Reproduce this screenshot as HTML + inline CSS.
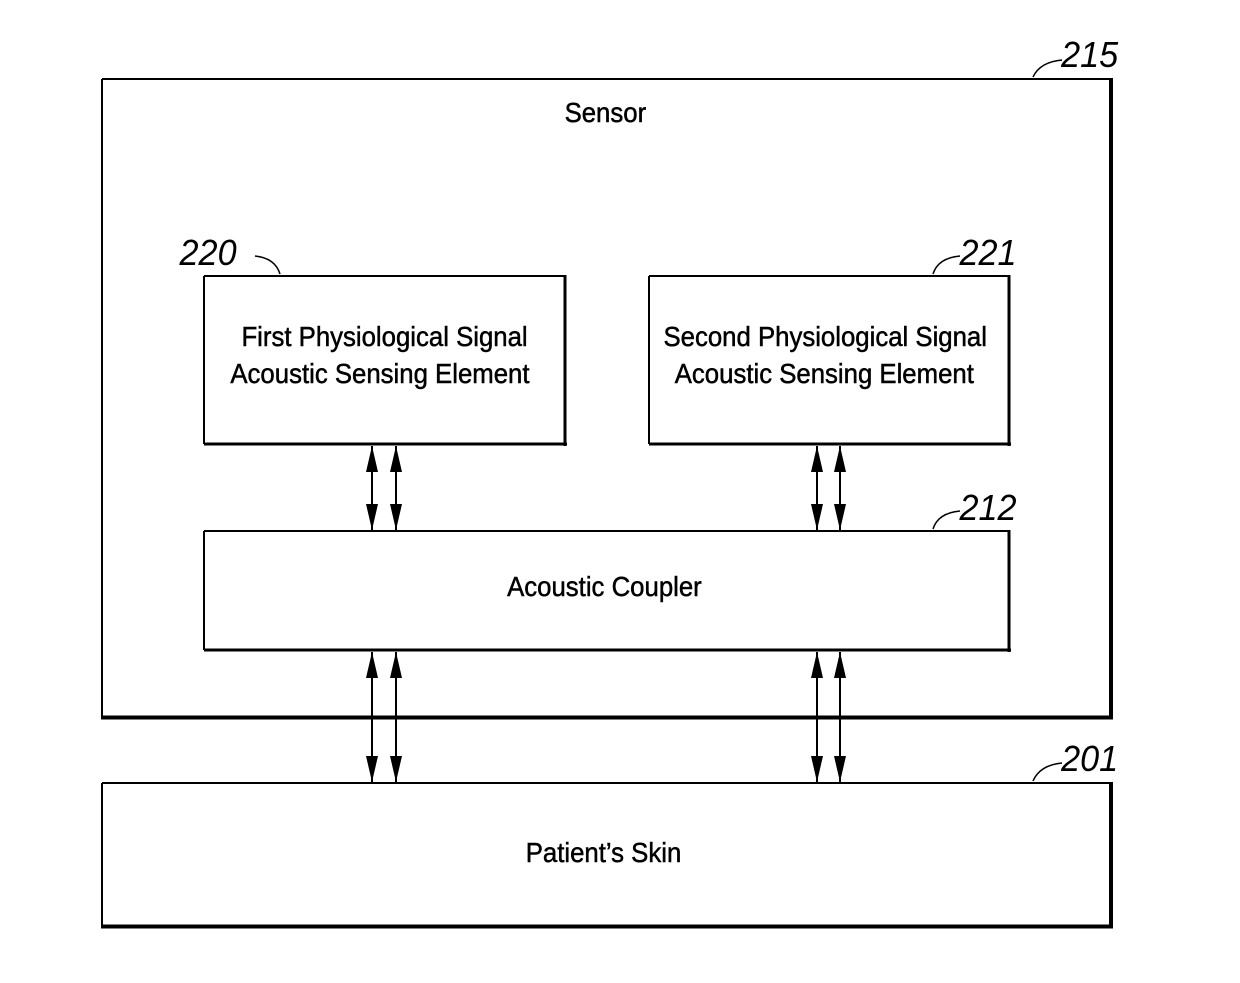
<!DOCTYPE html>
<html><head><style>body{margin:0;background:#fff}svg{display:block}</style></head><body>
<svg width="1240" height="983" viewBox="0 0 1240 983" xmlns="http://www.w3.org/2000/svg" font-family="Liberation Sans, sans-serif">
<g fill="none" stroke="#000">
<path d="M102 79 H1111 M102 79 V718" stroke-width="2"/>
<path d="M1111 78 V719 M101 717.5 H1113" stroke-width="4"/>
<path d="M204 276 H564 M204 276 V444" stroke-width="2"/>
<path d="M565 275 V446 M204 444 H567" stroke-width="3"/>
<path d="M649 276 H1009 M649 276 V444" stroke-width="2"/>
<path d="M1009 275 V446 M649 444 H1011" stroke-width="3"/>
<path d="M204 531 H1009 M204 531 V650" stroke-width="2"/>
<path d="M1009 530 V652 M204 650 H1011" stroke-width="3"/>
<path d="M102 783 H1111 M102 783 V926" stroke-width="2"/>
<path d="M1111 782 V928 M101 926.5 H1113" stroke-width="4"/>
<path d="M1033 77 Q1040 62 1062 60" stroke-width="1.5"/>
<path d="M255 256 Q275 258 280 274" stroke-width="1.5"/>
<path d="M933 274 Q938 258 960 256" stroke-width="1.5"/>
<path d="M933 529 Q938 513 960 511" stroke-width="1.5"/>
<path d="M1033 781 Q1040 765 1062 763" stroke-width="1.5"/>
<path d="M372 446 V530 M396 446 V530 M817 446 V530 M840 446 V530 M372 652 V782 M396 652 V782 M817 652 V782 M840 652 V782" stroke-width="2"/>
</g>
<g fill="#000">
<path d="M372 446 l-6 26 h12z M396 446 l-6 26 h12z M817 446 l-6 26 h12z M840 446 l-6 26 h12z"/>
<path d="M372 530 l-6 -26 h12z M396 530 l-6 -26 h12z M817 530 l-6 -26 h12z M840 530 l-6 -26 h12z"/>
<path d="M372 652 l-6 26 h12z M396 652 l-6 26 h12z M817 652 l-6 26 h12z M840 652 l-6 26 h12z"/>
<path d="M372 782 l-6 -26 h12z M396 782 l-6 -26 h12z M817 782 l-6 -26 h12z M840 782 l-6 -26 h12z"/>
</g>
<g font-size="28" text-anchor="middle" fill="#000" stroke="#000" stroke-width="0.5" transform="scale(0.92,1)">
<text x="658" y="122">Sensor</text>
<text x="418" y="346">First Physiological Signal</text>
<text x="413" y="383">Acoustic Sensing Element</text>
<text x="897" y="346">Second Physiological Signal</text>
<text x="896" y="383">Acoustic Sensing Element</text>
<text x="657" y="596">Acoustic Coupler</text>
<text x="656" y="862">Patient’s Skin</text>
</g>
<g font-size="36" font-style="italic" fill="#000" transform="scale(0.95,1)">
<text x="1117" y="67">215</text>
<text x="189" y="265">220</text>
<text x="1010" y="265">221</text>
<text x="1010" y="520">212</text>
<text x="1117" y="771">201</text>
</g>
</svg>
</body></html>
